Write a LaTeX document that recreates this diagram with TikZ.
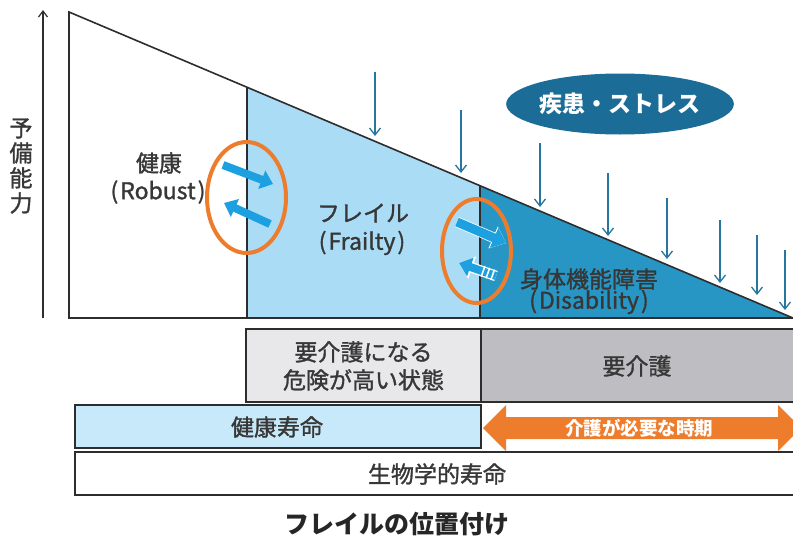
\documentclass[tikz,border=0pt]{standalone}
\usepackage{fontspec}
\setmainfont{Noto Sans CJK JP}
\newfontfamily\jpmed[FakeBold=1.3]{Noto Sans CJK JP}
\usetikzlibrary{arrows.meta,calc,shapes.geometric}
\definecolor{frailfill}{RGB}{170,220,245}
\definecolor{disfill}{RGB}{40,150,196}
\definecolor{stresscol}{RGB}{38,118,158}
\definecolor{ellfill}{RGB}{28,108,152}
\definecolor{orng}{RGB}{237,125,45}
\definecolor{fatblue}{RGB}{28,160,224}
\definecolor{txtgray}{RGB}{55,55,55}
\definecolor{outl}{RGB}{45,45,45}
\definecolor{riskfill}{RGB}{232,232,234}
\definecolor{carefill}{RGB}{190,190,194}
\definecolor{healthfill}{RGB}{200,233,250}
\tikzset{
  outline/.style={draw=outl, line width=1.6pt, line join=miter},
  stressarrow/.style={draw=stresscol, line width=1.3pt, -{Straight Barb[length=7pt,width=11pt,line width=1.3pt]}},
  fatarrow/.style={draw=fatblue, line width=8pt, -{Triangle[length=12pt,width=19pt]}},
  fathalo/.style={draw=white, line width=10.5pt, -{Triangle[length=14pt,width=23pt]}},
  ring/.style={ellipse, draw=orng, line width=4pt, inner sep=0pt, outer sep=0pt},
  lbl/.style={text=txtgray, font=\jpmed\fontsize{23}{26}\selectfont, inner sep=0pt},
  boxtxt/.style={text=txtgray, font=\jpmed\fontsize{23}{28}\selectfont, align=center, inner sep=0pt},
  bar/.style={draw=outl, line width=1.4pt, inner sep=0pt, outer sep=0pt},
}
\begin{document}
\begin{tikzpicture}[x=1pt,y=-1pt]
\useasboundingbox (0,0) rectangle (793,544);
% main shape
\coordinate (TL) at (69,12);
\coordinate (A) at (247,87.2);
\coordinate (B) at (480,185.7);
\coordinate (BR) at (793,318);
\coordinate (BL) at (69,318);
\coordinate (A0) at (247,318);
\coordinate (B0) at (480,318);
\fill[frailfill] (A) -- (B) -- (B0) -- (A0) -- cycle;
\fill[disfill] (B) -- (BR) -- (B0) -- cycle;
\draw[outline] (BL) -- (TL) -- (BR) -- cycle;
\draw[outline] (A) -- (A0);
\draw[outline] (B) -- (B0);
% y axis
\coordinate (ya) at (43,318);
\coordinate (yb) at (43,10);
\draw[draw=outl, line width=1.2pt, -{Straight Barb[length=6pt,width=9pt,line width=1.2pt]}] (ya) -- (yb);
\node[lbl, align=center, font=\jpmed\fontsize{23}{25}\selectfont] (ylab) at (21,166) {予\\備\\能\\力};
% stress arrows
\foreach \i/\x/\ya/\yb in {1/375/72/136, 2/461/110/173, 3/540/143/207, 4/608/173/236, 5/667/198/259, 6/720/220/283, 7/757/235/295, 8/785/250/310}{
  \coordinate (s\i) at (\x,\ya);
  \coordinate (e\i) at (\x,\yb);
  \draw[stressarrow] (s\i) -- (e\i);
}
\node[ellipse, fill=ellfill, minimum width=223pt, minimum height=61pt, inner sep=0pt, text=white, font=\fontsize{23}{26}\selectfont\bfseries] (stress) at (620,104) {疾患・ストレス};
% region labels
\node[lbl] (robust1) at (159,163) {健康};
\node[lbl] (robust2) at (158,192) {(\kern2ptRobust\kern2pt)};
\node[lbl] (frail1) at (363,213) {フレイル};
\node[lbl] (frail2) at (362,243) {(\kern2ptFrailty\kern2pt)};
\node[lbl] (dis1) at (589,279) {身体機能障害};
\node[lbl] (dis2) at (589,302) {(\kern2ptDisability\kern2pt)};
% transition arrows, first ring
\coordinate (u1a) at (223,165); \coordinate (u1b) at (273,184);
\coordinate (l1a) at (270,224); \coordinate (l1b) at (224,203);
\draw[fatarrow] (u1a) -- (u1b);
\draw[fatarrow] (l1a) -- (l1b);
\node[ring, minimum width=79pt, minimum height=111pt] (ring1) at (246.5,197.5) {};
% second ring
\coordinate (u2a) at (457,222); \coordinate (u2b) at (506,243);
\coordinate (l2a) at (496,276); \coordinate (l2b) at (459,263);
\draw[fathalo] (u2a) -- (u2b);
\draw[fatarrow, line width=9pt, -{Triangle[length=13pt,width=21pt]}] (u2a) -- (u2b);
\draw[fathalo] (l2a) -- (l2b);
\draw[fatarrow] (l2a) -- (l2b);
\foreach \t in {0.09,0.22,0.35}{
  \coordinate (p) at ($(l2a)!\t!(l2b)$);
  \draw[white, line width=1.6pt] ($(p)!5.5pt!90:(l2b)$) -- ($(p)!5.5pt!-90:(l2b)$);
}
\node[ring, minimum width=69pt, minimum height=104pt] (ring2) at (476.5,251) {};
% lower bars
\node[bar, fill=riskfill, minimum width=235pt, minimum height=73pt] (risk) at (363.5,365.5) {};
\node[boxtxt] (risktxt) at (363.5,366) {要介護になる\\危険が高い状態};
\node[bar, fill=carefill, minimum width=314pt, minimum height=73pt] (care) at (638,365.5) {};
\node[boxtxt] (caretxt) at (637,366) {要介護};
\node[bar, fill=healthfill, minimum width=406pt, minimum height=43pt] (health) at (278,426.5) {};
\node[boxtxt] (healthtxt) at (277,427) {健康寿命};
\node[bar, fill=white, minimum width=720pt, minimum height=43pt] (bio) at (435,473.5) {};
\node[boxtxt] (biotxt) at (437,474) {生物学的寿命};
% care period double arrow
\fill[orng] (483,428) -- (506,405) -- (506,417) -- (778,417) -- (778,405) -- (801,428) -- (778,451) -- (778,439) -- (506,439) -- (506,451) -- cycle;
\node[text=white, font=\fontsize{18.5}{20}\selectfont\bfseries, inner sep=0pt] (period) at (639,428) {介護が必要な時期};
% title
\node[text=black!85, font=\fontsize{25}{28}\selectfont\bfseries, inner sep=0pt] (title) at (397,524) {フレイルの位置付け};
\end{tikzpicture}
\end{document}
